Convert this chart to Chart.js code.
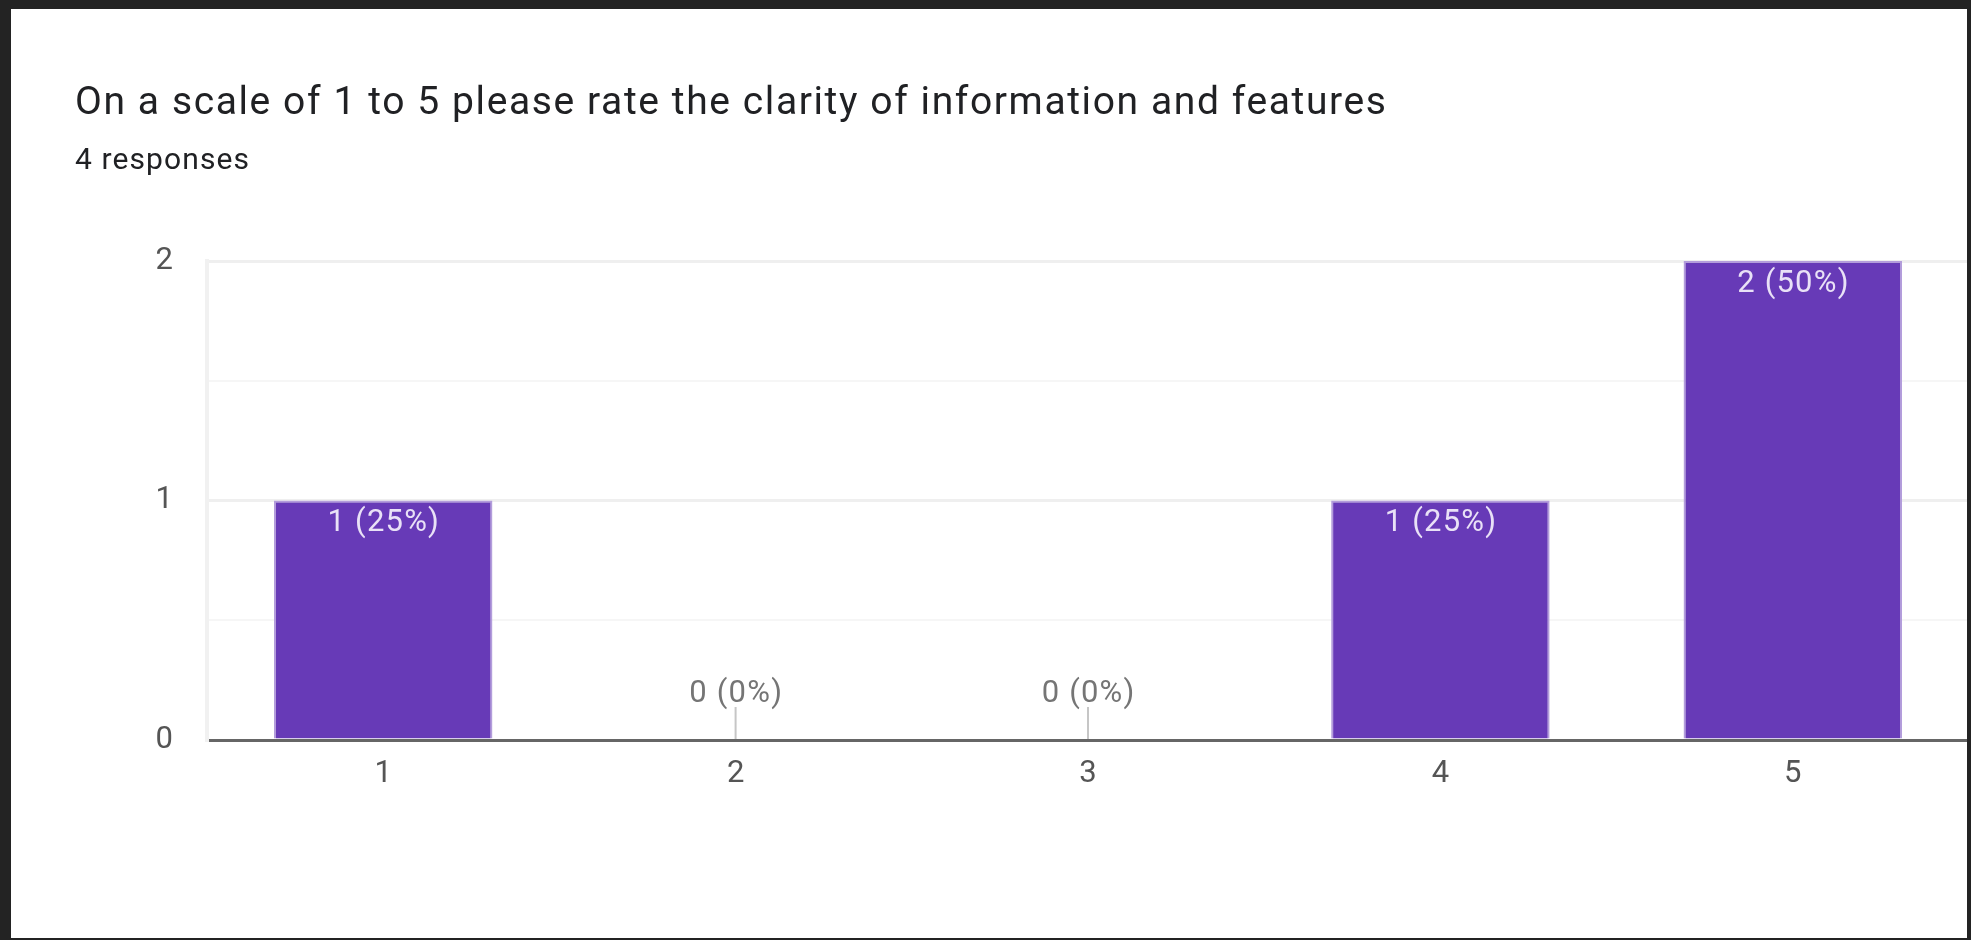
<!DOCTYPE html>
<html>
<head>
<meta charset="utf-8">
<script src="https://cdn.jsdelivr.net/npm/chart.js@4/dist/chart.umd.min.js"></script>
<style>
  html, body { margin: 0; padding: 0; }
  body { width: 1971px; height: 940px; background: #232323; position: relative; overflow: hidden; font-family: Roboto, "Noto Sans", sans-serif; }
  #panel { position: absolute; left: 11px; top: 9px; width: 1956px; height: 929px; background: #ffffff; overflow: hidden; }
  #chart { position: absolute; left: -11px; top: -9px; }
  #title { position: absolute; left: 75px; top: 82px; font-size: 39px; line-height: 39px; letter-spacing: 1.6px; color: #202124; white-space: nowrap; }
  #subtitle { position: absolute; left: 75px; top: 144px; font-size: 30px; line-height: 30px; letter-spacing: 1.1px; color: #202124; white-space: nowrap; }
</style>
</head>
<body>
<div id="panel">
  <canvas id="chart" width="1971" height="940"></canvas>
</div>
<div id="title">On a scale of 1 to 5 please rate the clarity of information and features</div>
<div id="subtitle">4 responses</div>
<script>
const titleText = "On a scale of 1 to 5 please rate the clarity of information and features";
const subtitleText = "4 responses";
const categories = ["1", "2", "3", "4", "5"];
const counts = [1, 0, 0, 1, 2];
const yGridValues = [0, 0.5, 1, 1.5, 2];
const yTickLabels = ["0", "", "1", "", "2"];

const total = counts.reduce((a, b) => a + b, 0);
const FONT = "Roboto";

const barLabels = {
  id: "barLabels",
  afterDatasetsDraw(chart) {
    const ctx = chart.ctx;
    const meta = chart.getDatasetMeta(0);
    const xs = chart.scales.x, ys = chart.scales.y;
    ctx.save();
    ctx.font = "31px " + FONT;
    ctx.letterSpacing = "1.2px";
    ctx.textAlign = "center";
    ctx.textBaseline = "middle";
    counts.forEach((v, i) => {
      const pct = Math.round(v / total * 100);
      const txt = v + " (" + pct + "%)";
      const x = xs.getPixelForValue(i);
      if (v === 0) {
        const y0 = ys.getPixelForValue(0);
        ctx.strokeStyle = "#c6c6c6";
        ctx.lineWidth = 2;
        ctx.beginPath();
        ctx.moveTo(x, y0 - 1);
        ctx.lineTo(x, y0 - 33);
        ctx.stroke();
        ctx.fillStyle = "#757575";
        ctx.fillText(txt, x + 0.6, y0 - 46);
      } else {
        const el = meta.data[i];
        ctx.fillStyle = "rgba(240,234,250,0.95)";
        ctx.fillText(txt, el.x + 0.6, el.y + 23);
      }
    });
    ctx.restore();
  }
};

new Chart(document.getElementById("chart"), {
  type: "bar",
  data: {
    labels: categories,
    datasets: [{
      data: counts,
      backgroundColor: "#673ab7",
      borderColor: "#b39ddb",
      borderWidth: { top: 2, left: 2, right: 2, bottom: 0 },
      borderSkipped: "start",
      categoryPercentage: 1,
      barPercentage: 0.62
    }]
  },
  options: {
    responsive: false,
    devicePixelRatio: 1,
    animation: false,
    layout: { padding: { top: 261, right: 2, bottom: 0, left: 0 } },
    plugins: { legend: { display: false }, tooltip: { enabled: false }, title: { display: false } },
    scales: {
      x: {
        z: 1,
        grid: { display: true, color: "rgba(0,0,0,0)", drawTicks: false },
        border: { display: true, color: "#666666", width: 3 },
        ticks: { color: "#555555", font: { family: FONT, size: 31 }, padding: 16 },
        afterFit: s => { s.height = 200; }
      },
      y: {
        min: 0,
        max: 2,
        afterBuildTicks: s => { s.ticks = yGridValues.map(v => ({ value: v })); },
        grid: {
          drawTicks: false,
          color: c => (c.tick && c.tick.value === 0) ? "rgba(0,0,0,0)" : (c.tick && c.tick.value % 1 === 0 ? "#efefef" : "#f6f6f6"),
          lineWidth: c => (c.tick && c.tick.value % 1 === 0) ? 3 : 2
        },
        border: { display: true, color: "#f1f1f1", width: 4 },
        ticks: {
          color: "#555555",
          font: { family: FONT, size: 31 },
          padding: 34,
          callback: (v, i) => yTickLabels[yGridValues.indexOf(v)] ?? ""
        },
        afterFit: s => { s.width = 207; }
      }
    }
  },
  plugins: [barLabels]
});
</script>
</body>
</html>
